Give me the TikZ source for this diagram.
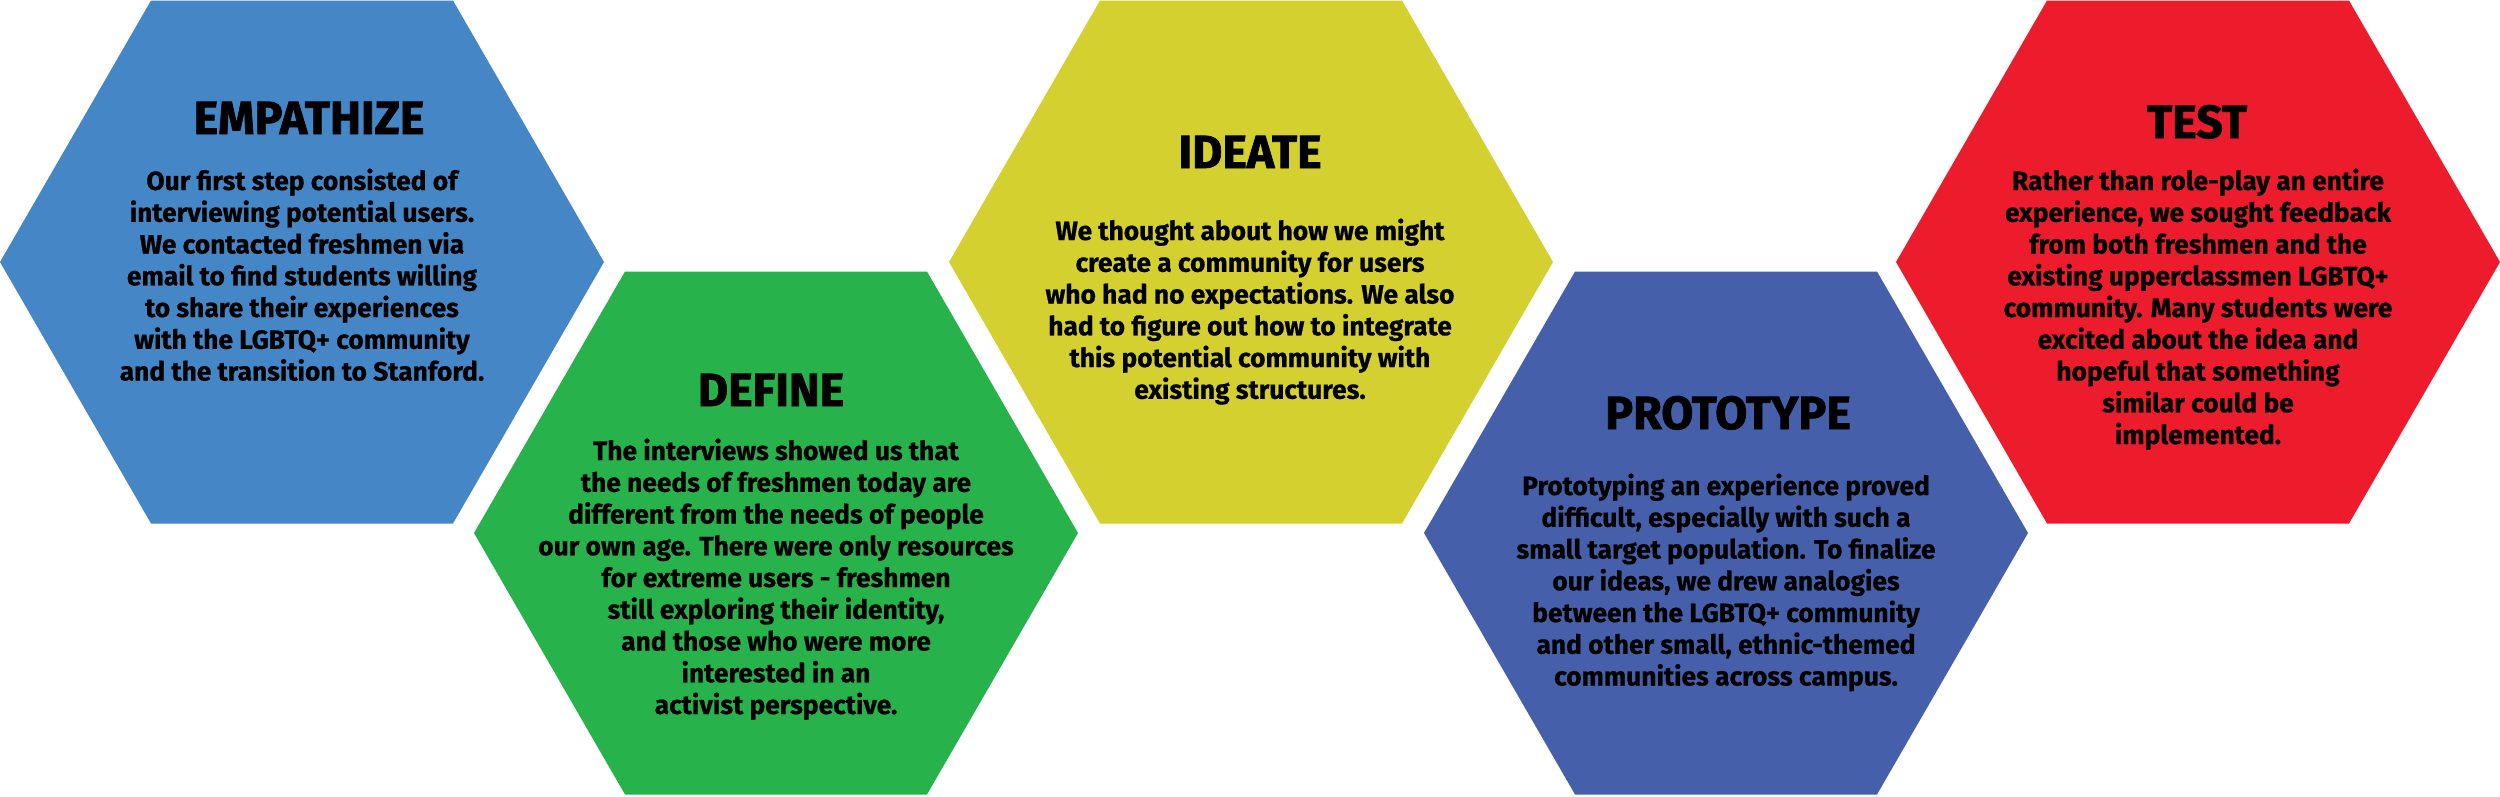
\documentclass[tikz,border=0pt]{standalone}
\usepackage{fontspec}
\setmainfont{Fira Sans}
\newfontfamily\bodyf{Fira Sans}[BoldFeatures={FakeBold=0.6}]
\newfontfamily\titlef{Fira Sans}[BoldFeatures={FakeBold=1.6}]
\definecolor{cemp}{HTML}{4586C6}
\definecolor{cdef}{HTML}{27B24B}
\definecolor{cide}{HTML}{D3D02F}
\definecolor{cpro}{HTML}{455FAA}
\definecolor{ctes}{HTML}{EC1C2D}
\tikzset{
  ttl/.style={anchor=base, inner sep=0pt, font=\titlef\fontsize{18.6}{22}\selectfont\bfseries},
  bodytext/.style={anchor=base, inner sep=0pt, font=\bodyf\fontsize{10.55}{12.7}\selectfont\bfseries},
}
\newcommand\hexfill[2]{%
  \fill[#2] ([shift={(302,0)}]#1) -- ([shift={(151,261.5)}]#1) -- ([shift={(-151,261.5)}]#1)
    -- ([shift={(-302,0)}]#1) -- ([shift={(-151,-261.5)}]#1) -- ([shift={(151,-261.5)}]#1) -- cycle;}
\begin{document}
\begin{tikzpicture}[x=0.4pt,y=-0.4pt]
\useasboundingbox (0,0) rectangle (2500,796);
\coordinate (emp) at (302,262);
\coordinate (def) at (776,533);
\coordinate (ide) at (1251,262);
\coordinate (pro) at (1726,533);
\coordinate (tes) at (2198,262);
\hexfill{emp}{cemp}
\hexfill{def}{cdef}
\hexfill{ide}{cide}
\hexfill{pro}{cpro}
\hexfill{tes}{ctes}

\node[ttl] (empT) at (309,134) {EMPATHIZE};
\node[bodytext] (empB) at (302,190) {\begin{tabular}[t]{@{}c@{}}
Our first step consisted of\\
interviewing potential users.\\
We contacted freshmen via\\
email to find students willing\\
to share their experiences\\
with the LGBTQ+ community\\
and the transition to Stanford.
\end{tabular}};

\node[ttl] (defT) at (771,406) {DEFINE};
\node[bodytext] (defB) at (776,460) {\begin{tabular}[t]{@{}c@{}}
The interviews showed us that\\
the needs of freshmen today are\\
different from the needs of people\\
our own age. There were only resources\\
for extreme users - freshmen\\
still exploring their identity,\\
and those who were more\\
interested in an\\
activist perspective.
\end{tabular}};

\node[ttl] (ideT) at (1250,168) {IDEATE};
\node[bodytext] (ideB) at (1250,240) {\begin{tabular}[t]{@{}c@{}}
We thought about how we might\\
create a community for users\\
who had no expectations. We also\\
had to figure out how to integrate\\
this potential community with\\
existing structures.
\end{tabular}};

\node[ttl] (proT) at (1728,429) {PROTOTYPE};
\node[bodytext] (proB) at (1726,495) {\begin{tabular}[t]{@{}c@{}}
Prototyping an experience proved\\
difficult, especially with such a\\
small target population. To finalize\\
our ideas, we drew analogies\\
between the LGBTQ+ community\\
and other small, ethnic-themed\\
communities across campus.
\end{tabular}};

\node[ttl] (tesT) at (2197,138) {TEST};
\node[bodytext] (tesB) at (2198,190) {\begin{tabular}[t]{@{}c@{}}
Rather than role-play an entire\\
experience, we sought feedback\\
from both freshmen and the\\
existing upperclassmen LGBTQ+\\
community. Many students were\\
excited about the idea and\\
hopeful that something\\
similar could be\\
implemented.
\end{tabular}};
\end{tikzpicture}
\end{document}
